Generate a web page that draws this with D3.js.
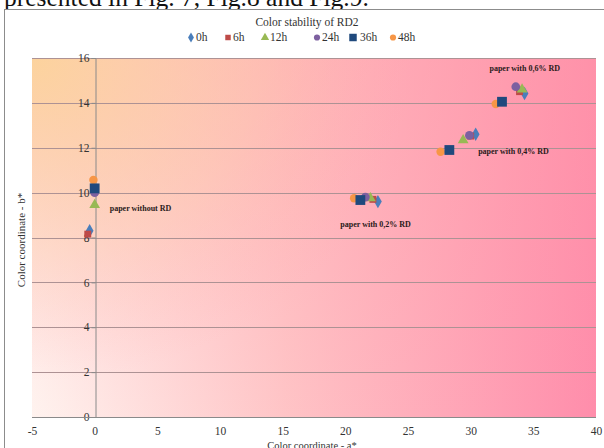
<!DOCTYPE html>
<html>
<head>
<meta charset="utf-8">
<script src="https://cdn.jsdelivr.net/npm/d3@7"></script>
<style>
  body { margin: 0; background: #fff; }
  svg text { font-family: "Liberation Serif", "Times New Roman", serif; }
</style>
</head>
<body>
<div id="chart"></div>
<script>
// Chart data: a* (x) and b* (y) for each exposure time, one value per paper sample
var seriesNames = ["0h", "6h", "12h", "24h", "36h", "48h"];
var groupLabels = ["paper without RD", "paper with 0,2% RD", "paper with 0,4% RD", "paper with 0,6% RD"];
var aValues = [
    [-0.4, 22.6, 30.4, 34.3],
    [-0.55, 22.2, 30.0, 33.9],
    [0.0, 22.0, 29.4, 34.1],
    [0.0, 21.6, 29.9, 33.6],
    [0.0, 21.2, 28.3, 32.5],
    [-0.1, 20.7, 27.6, 32.0]
];
var bValues = [
    [8.3, 9.6, 12.6, 14.42],
    [8.15, 9.7, 12.52, 14.5],
    [9.45, 9.75, 12.34, 14.6],
    [10.0, 9.8, 12.55, 14.72],
    [10.19, 9.67, 11.9, 14.05],
    [10.56, 9.75, 11.82, 13.95]
];
// where the group labels sit, in data units (a*, b*)
var labelA = [1.2, 19.6, 30.6, 31.5];
var labelB = [9.2, 8.47, 11.73, 15.4];
var xTicks = [-5, 0, 5, 10, 15, 20, 25, 30, 35, 40];
var yTicks = [0, 2, 4, 6, 8, 10, 12, 14, 16];

var svgWidth = 604;
var svgHeight = 448;
var serif = "'Liberation Serif', 'Times New Roman', serif";

var colors = ["#4a7ebb", "#be4b48", "#98b954", "#7d60a0", "#1f497d", "#f79646"];
var shapes = [d3.symbolDiamond, d3.symbolSquare, d3.symbolTriangle, d3.symbolCircle, d3.symbolSquare, d3.symbolCircle];
var sizes = [52, 48, 50, 60, 96, 56];

var svg = d3.select("#chart")
    .append("svg")
    .attr("width", svgWidth)
    .attr("height", svgHeight);

// text of the page above the figure, cut off at the top
svg.append("text")
    .attr("x", 4)
    .attr("y", 6)
    .attr("font-family", serif)
    .style("font-size", "25.5px")
    .attr("fill", "#111")
    .text("presented in Fig. 7, Fig.8 and Fig.9.");

// chart frame
svg.append("rect")
    .attr("x", 4.5)
    .attr("y", 9.5)
    .attr("width", 620)
    .attr("height", 460)
    .attr("fill", "#fff")
    .attr("stroke", "#8c8c8c");

var x = d3.scaleLinear().domain([-5, 40]).range([32, 596]);
var y = d3.scaleLinear().domain([0, 16]).range([417, 58]);

// plot area gradient fill
var defs = svg.append("defs");
var hGrad = defs.append("linearGradient").attr("id", "hGrad")
    .attr("x1", "0").attr("y1", "0").attr("x2", "1").attr("y2", "0");
hGrad.append("stop").attr("offset", "0").attr("stop-color", "#fff3ef");
hGrad.append("stop").attr("offset", "0.45").attr("stop-color", "#ffc4c6");
hGrad.append("stop").attr("offset", "1").attr("stop-color", "#ff8dab");

var rGrad = defs.append("radialGradient").attr("id", "rGrad")
    .attr("cx", "0").attr("cy", "0").attr("r", "0.9")
    .attr("gradientTransform", "scale(0.75,1)");
rGrad.append("stop").attr("offset", "0").attr("stop-color", "#fcd39a").attr("stop-opacity", 0.95);
rGrad.append("stop").attr("offset", "0.6").attr("stop-color", "#fcc8a0").attr("stop-opacity", 0.35);
rGrad.append("stop").attr("offset", "1").attr("stop-color", "#ffb0b0").attr("stop-opacity", 0);

var vGrad = defs.append("linearGradient").attr("id", "vGrad")
    .attr("x1", "0").attr("y1", "0").attr("x2", "0").attr("y2", "1");
vGrad.append("stop").attr("offset", "0").attr("stop-color", "#ff9aa6").attr("stop-opacity", 0.35);
vGrad.append("stop").attr("offset", "1").attr("stop-color", "#ff9aa6").attr("stop-opacity", 0);

var plotW = x(40) - x(-5);
var plotH = y(0) - y(16);
["hGrad", "vGrad", "rGrad"].forEach(function (id) {
    svg.append("rect")
        .attr("x", x(-5))
        .attr("y", y(16))
        .attr("width", plotW)
        .attr("height", plotH)
        .attr("fill", "url(#" + id + ")");
});

// horizontal gridlines
svg.append("g")
    .selectAll("line")
    .data(yTicks.filter(d => d > 0))
    .enter().append("line")
    .attr("x1", x(-5))
    .attr("x2", x(40))
    .attr("y1", d => Math.round(y(d)) + 0.5)
    .attr("y2", d => Math.round(y(d)) + 0.5)
    .attr("stroke", "#ad9294")
    .attr("stroke-width", 1);

// vertical axis crossing at a* = 0
var leftAxis = d3.axisLeft(y).tickValues(yTicks).tickSize(4).tickPadding(2)
    .tickFormat(d => String(d));
var yAxisG = svg.append("g")
    .attr("transform", `translate(${Math.round(x(0)) + 0.5}, 0)`)
    .call(leftAxis);

// horizontal axis along b* = 0
var bottomAxis = d3.axisBottom(x).tickValues(xTicks).tickSize(0).tickPadding(9)
    .tickFormat(d => String(d));
var xAxisG = svg.append("g")
    .attr("transform", `translate(0, ${Math.round(y(0)) + 0.5})`)
    .call(bottomAxis);

[yAxisG, xAxisG].forEach(function (g) {
    g.attr("font-family", serif).attr("font-size", 11.5);
    g.selectAll("path, line").attr("stroke", "#8a8a8a");
    g.selectAll("text").attr("fill", "#333");
});
xAxisG.select(".domain").attr("d", `M${x(-5)},0H${x(40)}`);

// points, 48h underneath so the 36h squares sit on top
var order = [5, 0, 1, 2, 3, 4];
order.forEach(function (s) {
    svg.append("g")
        .selectAll("path")
        .data(aValues[s].map((a, i) => [a, bValues[s][i]]))
        .enter().append("path")
        .attr("transform", d => `translate(${x(d[0])}, ${y(d[1])})`)
        .attr("d", d3.symbol().type(shapes[s]).size(sizes[s]))
        .attr("fill", colors[s]);
});

// group labels
svg.append("g")
    .selectAll("text")
    .data(groupLabels)
    .enter().append("text")
    .attr("x", (d, i) => x(labelA[i]))
    .attr("y", (d, i) => y(labelB[i]))
    .attr("font-family", serif)
    .attr("fill", "#2a1a1a")
    .style("font-size", "8px")
    .style("font-weight", "bold")
    .text(d => d);

// title
svg.append("text")
    .attr("x", 307)
    .attr("y", 26)
    .attr("text-anchor", "middle")
    .attr("font-family", serif)
    .attr("fill", "#333")
    .style("font-size", "11.5px")
    .text("Color stability of RD2");

// legend
var legendX = [191, 228, 265, 317, 353, 393];
var legend = svg.append("g")
    .selectAll("g")
    .data(seriesNames)
    .enter().append("g")
    .attr("transform", (d, i) => `translate(${legendX[i]}, 41)`);
legend.append("path")
    .attr("transform", "translate(0, -3.5)")
    .attr("d", (d, i) => d3.symbol().type(shapes[i]).size(i === 4 ? 56 : 30)())
    .attr("fill", (d, i) => colors[i]);
legend.append("text")
    .attr("x", (d, i) => i === 4 ? 7 : 5)
    .attr("y", 0)
    .attr("font-family", serif)
    .attr("fill", "#333")
    .style("font-size", "11.5px")
    .text(d => d);

// axis titles
svg.append("text")
    .attr("transform", "translate(25, 240) rotate(-90)")
    .attr("text-anchor", "middle")
    .attr("font-family", serif)
    .attr("fill", "#333")
    .style("font-size", "11px")
    .text("Color coordinate - b*");

svg.append("text")
    .attr("x", 312)
    .attr("y", 449)
    .attr("text-anchor", "middle")
    .attr("font-family", serif)
    .attr("fill", "#333")
    .style("font-size", "10.5px")
    .text("Color coordinate - a*");
</script>
</body>
</html>
